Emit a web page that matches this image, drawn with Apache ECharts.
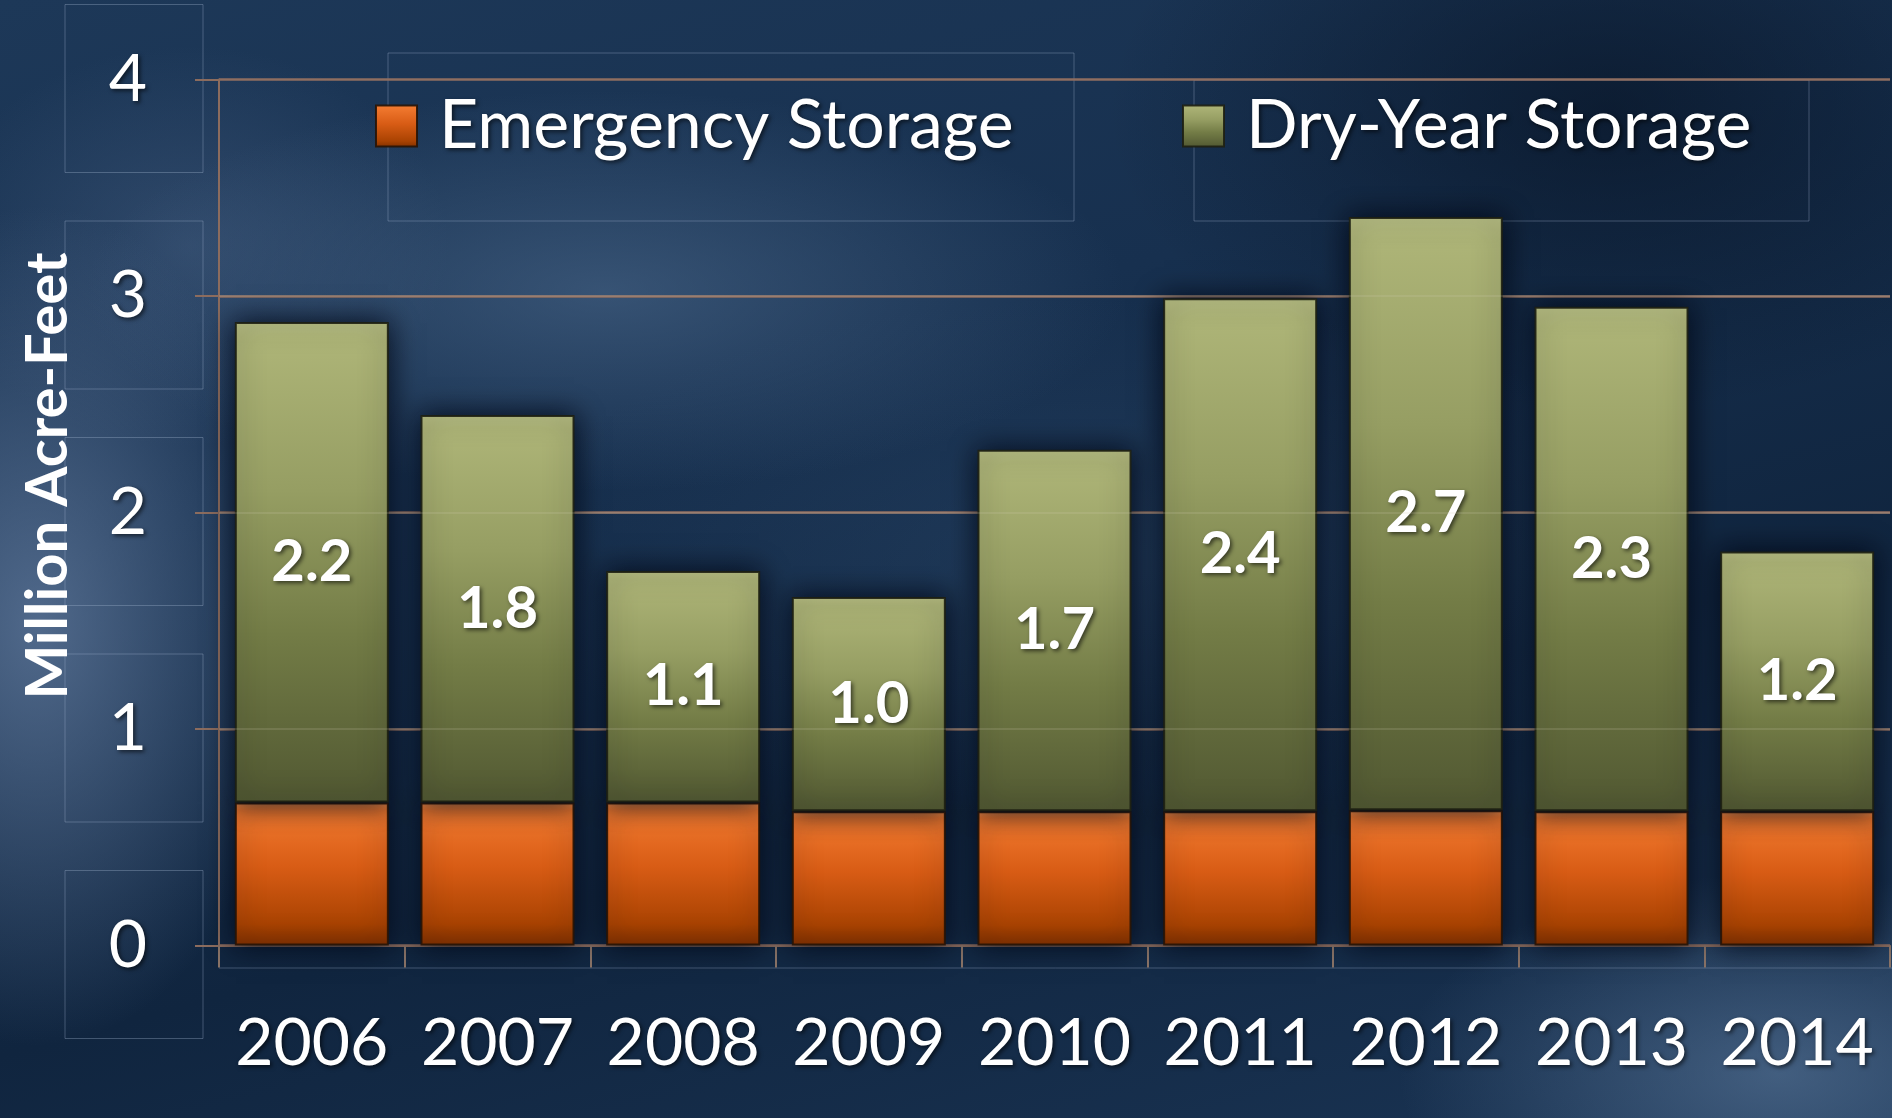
<!DOCTYPE html>
<html>
<head>
<meta charset="utf-8">
<script src="https://cdn.jsdelivr.net/npm/echarts@6/dist/echarts.min.js"></script>
<style>
html,body{margin:0;padding:0;width:1892px;height:1118px;overflow:hidden;}
body{
  background:
    radial-gradient(ellipse 260px 420px at 2% 56%, rgba(100,125,160,0.75), rgba(100,125,160,0) 100%),
    radial-gradient(ellipse 520px 200px at 32% 26%, rgba(80,110,145,0.55), rgba(80,110,145,0) 100%),
    radial-gradient(ellipse 260px 200px at 10% 22%, rgba(70,95,130,0.5), rgba(70,95,130,0) 100%),
    radial-gradient(ellipse 380px 200px at 94% 96%, rgba(100,130,165,0.55), rgba(100,130,165,0) 100%),
    radial-gradient(ellipse 600px 260px at 58% 50%, rgba(45,75,110,0.45), rgba(45,75,110,0) 100%),
    radial-gradient(ellipse 500px 300px at 85% 10%, rgba(5,15,30,0.6), rgba(5,15,30,0) 100%),
    linear-gradient(165deg, #1d3858 0%, #17304f 35%, #10253f 65%, #1a3454 100%);
}
#chart{width:1892px;height:1118px;}
</style>
</head>
<body>
<div id="chart"></div>
<script>
var years = ['2006','2007','2008','2009','2010','2011','2012','2013','2014'];
var emergencyStorage = [0.66, 0.66, 0.66, 0.62, 0.62, 0.62, 0.625, 0.62, 0.62];
var dryYearStorage = [2.22, 1.79, 1.07, 0.99, 1.67, 2.37, 2.74, 2.33, 1.20];
var yTicks = [0, 1, 2, 3, 4];

var FONT = 'Lato, "Open Sans", sans-serif';
var shadowText = {textShadowColor:'rgba(0,0,0,0.6)', textShadowBlur:4, textShadowOffsetX:2, textShadowOffsetY:2};

function lg(stops){
  return new echarts.graphic.LinearGradient(0,0,0,1, stops.map(function(s){return {offset:s[0], color:s[1]};}));
}
var orangeGrad = lg([[0,'#f9924a'],[0.05,'#f27a30'],[0.45,'#d85c15'],[0.85,'#aa4302'],[1,'#803000']]);
var oliveGrad = lg([[0,'#b6bd82'],[0.04,'#adb477'],[0.35,'#969e63'],[0.65,'#737c46'],[1,'#515832']]);

var chart = echarts.init(document.getElementById('chart'), null, {renderer:'canvas'});

var boxStroke = {stroke:'rgba(160,180,205,0.35)', lineWidth:1, fill:'none'};
var graphics = [
  {type:'rect', shape:{x:388, y:53, width:686, height:168}, style:boxStroke, silent:true, z:-1},
  {type:'rect', shape:{x:1194, y:80, width:615, height:141}, style:boxStroke, silent:true, z:-1},
  {type:'line', shape:{x1:219, y1:968, x2:1892, y2:968}, style:{stroke:'rgba(160,180,205,0.35)', lineWidth:1}, silent:true, z:-1},
  {type:'text', x:48, y:476, rotation:Math.PI/2,
   style:{text:'Million Acre-Feet', fill:'#ffffff', font:'bold 58px ' + FONT, align:'center', verticalAlign:'middle',
     shadowColor:'rgba(0,0,0,0.6)', shadowBlur:4, shadowOffsetX:2, shadowOffsetY:2}}
];
yTicks.forEach(function(v){
  var cy = 945.5 - v*216.5 + 9;
  graphics.push({type:'rect', shape:{x:65, y:cy-84, width:138, height:168}, style:boxStroke, silent:true, z:-1});
});

var legendText = Object.assign({color:'#ffffff', fontSize:68, fontFamily:FONT, padding:[0,0,0,17]}, shadowText);

chart.setOption({
  backgroundColor:'transparent',
  animation:false,
  graphic: graphics,
  legend:[
    {data:['Emergency Storage'], icon:'rect', left:375, top:92, padding:0, itemWidth:41, itemHeight:41, textStyle:legendText},
    {data:['Dry-Year Storage'], icon:'rect', left:1182, top:92, padding:0, itemWidth:41, itemHeight:41, textStyle:legendText}
  ],
  grid:{left:219, right:2, top:79.5, bottom:172.5, containLabel:false},
  xAxis:{
    type:'category', data:years,
    axisLine:{show:true, lineStyle:{color:'#8c6c5e', width:2}},
    axisTick:{show:true, length:22, lineStyle:{color:'#8a7468', width:2}},
    axisLabel:Object.assign({color:'#ffffff', fontSize:66, fontFamily:FONT, margin:65, interval:0}, shadowText),
    splitLine:{show:false}
  },
  yAxis:{
    type:'value', min:0, max:4, interval:1,
    axisLine:{show:true, lineStyle:{color:'#8c6c5e', width:2}},
    axisTick:{show:true, length:24, lineStyle:{color:'#8c6c5e', width:2}},
    axisLabel:Object.assign({color:'#ffffff', fontSize:66, fontFamily:FONT, margin:72}, shadowText),
    splitLine:{show:true, lineStyle:{color:'#8f6e60', width:2.5}}
  },
  series:[
    {name:'Emergency Storage', type:'bar', stack:'total', data:emergencyStorage, barWidth:154,
     itemStyle:{color:orangeGrad, borderColor:'rgba(40,20,5,0.9)', borderWidth:2, shadowColor:'rgba(4,10,22,0.95)', shadowBlur:26}},
    {name:'Dry-Year Storage', type:'bar', stack:'total', data:dryYearStorage, barWidth:154,
     itemStyle:{color:oliveGrad, borderColor:'rgba(30,32,18,0.9)', borderWidth:2, shadowColor:'rgba(4,10,22,0.95)', shadowBlur:26},
     label:Object.assign({show:true, position:'inside', color:'#ffffff', fontSize:58, fontWeight:'bold', fontFamily:FONT,
       formatter:function(p){return p.value.toFixed(1);}}, shadowText),
     markLine:{silent:true, symbol:'none', label:{show:false}, animation:false,
       lineStyle:{color:'rgba(215,210,185,0.22)', width:1.5, type:'solid'},
       data:[{yAxis:1},{yAxis:2},{yAxis:3}]}}
  ]
});
</script>
</body>
</html>
